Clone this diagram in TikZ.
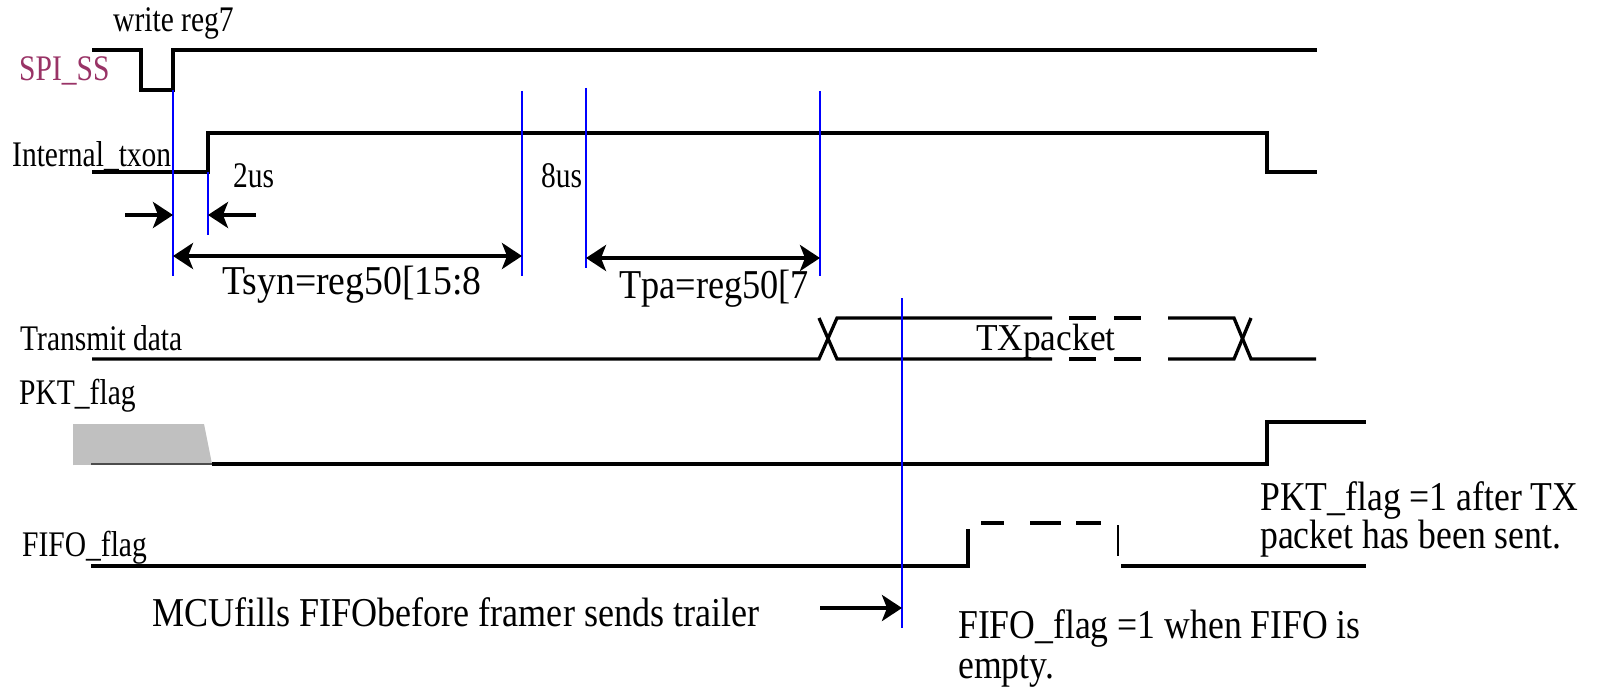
\documentclass[tikz,border=0pt]{standalone}
\usepackage{fontspec}
\setmainfont{Liberation Serif}
\newfontfamily\condserif{Liberation Serif}[FakeStretch=0.82]
\newfontfamily\noteserif{Liberation Serif}[FakeStretch=0.87]
\newfontfamily\tsynserif{Liberation Serif}[FakeStretch=0.92]
\newfontfamily\tpaserif{Liberation Serif}[FakeStretch=0.885]
\newfontfamily\wideserif{Liberation Serif}[FakeStretch=0.93]
\usetikzlibrary{arrows.meta}
\definecolor{ssred}{RGB}{153,51,102}
\definecolor{padgray}{RGB}{192,192,192}

\begin{document}
\begin{tikzpicture}[x=1pt,y=-1pt,
  sig/.style={line width=3.3pt},
  thinsig/.style={line width=1.5pt, black!70},
  marker/.style={blue, line width=2.8pt},
  dimtip/.tip={Stealth[length=20pt,width=26pt,inset=5pt]},
  dim/.style={line width=4pt, -dimtip},
  dimboth/.style={line width=4pt, dimtip-dimtip},
  lbl/.style={inner sep=0pt, anchor=base west, font=\condserif\fontsize{36}{40}\selectfont},
  note/.style={inner sep=0pt, anchor=base west, font=\noteserif\fontsize{41}{44}\selectfont},
  ]
\useasboundingbox (0,0) rectangle (1599,690);

% ---- signal names ----
\node[lbl] (wr) at (113,32) {write reg7};
\node[lbl, text=ssred] (ss) at (19,81) {SPI\_SS};
\node[lbl] (itx) at (12,167) {Internal\_txon};
\node[lbl] (td) at (20,350) {Transmit data};
\node[lbl] (pkt) at (19,404) {PKT\_flag};
\node[lbl] (ff) at (22,556) {FIFO\_flag};

% ---- SPI_SS ----
\draw[sig] (92,50) -- (141,50) -- (141,90) -- (173,90) -- (173,50) -- (1317,50);

% ---- Internal_txon ----
\draw[sig] (92,172) -- (208,172) -- (208,133) -- (1267,133) -- (1267,172) -- (1317,172);

% ---- Transmit data bus ----
\draw[sig] (92,359) -- (819,359) -- (837,318) -- (1052,318);
\draw[sig] (819,318) -- (837,359) -- (1052,359);
\foreach \a/\b in {1069/1096, 1114/1141}{
  \draw[sig] (\a,318) -- (\b,318);
  \draw[sig] (\a,359) -- (\b,359);
}
\draw[sig] (1168,318) -- (1234,318) -- (1251,359) -- (1316,359);
\draw[sig] (1168,359) -- (1234,359) -- (1251,318);
\node[inner sep=0pt, anchor=base west, font=\wideserif\fontsize{38}{40}\selectfont] (txp) at (976,350) {TXpacket};

% ---- PKT_flag ----
\fill[padgray] (73,424) -- (204,424) -- (212,464) -- (73,465) -- cycle;
\draw[thinsig] (91,464) -- (212,464);
\draw[sig] (212,464) -- (1267,464) -- (1267,422) -- (1366,422);

% ---- FIFO_flag ----
\draw[sig] (91,566) -- (968,566) -- (968,529);
\foreach \a/\b in {981/1004, 1030/1061, 1076/1101}{
  \draw[sig] (\a,523) -- (\b,523);
}
\draw[line width=2pt] (1118,525) -- (1118,556);
\draw[sig] (1121,566) -- (1366,566);

% ---- timing markers ----
\coordinate (m1t) at (173,90);   \coordinate (m1b) at (173,276);
\coordinate (m2t) at (208,172);  \coordinate (m2b) at (208,235);
\coordinate (m3t) at (522,91);   \coordinate (m3b) at (522,276);
\coordinate (m4t) at (586,88);   \coordinate (m4b) at (586,268);
\coordinate (m5t) at (820,91);   \coordinate (m5b) at (820,276);
\coordinate (m6t) at (902,298);  \coordinate (m6b) at (902,628);
\foreach \m in {1,...,6}{ \draw[marker] (m\m t) -- (m\m b); }

% ---- delay arrows ----
\coordinate (a1s) at (125,215);
\coordinate (a2s) at (256,215);
\draw[dim] (a1s) -- (a1s -| m1t);
\draw[dim] (a2s) -- (a2s -| m2t);
\node[lbl] (us2) at (233,188) {2us};
\node[lbl] (us8) at (541,188) {8us};

\coordinate (tsynl) at (173,256);
\draw[dimboth] (tsynl) -- (tsynl -| m3t);
\node[inner sep=0pt, anchor=base west, font=\tsynserif\fontsize{41}{44}\selectfont] (tsyn) at (222,294) {Tsyn=reg50[15:8};

\coordinate (tpal) at (586,258);
\draw[dimboth] (tpal) -- (tpal -| m5t);
\node[inner sep=0pt, anchor=base west, font=\tpaserif\fontsize{41}{44}\selectfont] (tpa) at (619,298) {Tpa=reg50[7};

% ---- notes ----
\coordinate (mcua) at (820,608);
\draw[dim] (mcua) -- (mcua -| m6t);
\node[inner sep=0pt, anchor=base west, font=\tsynserif\fontsize{41}{44}\selectfont, xscale=1] (mcu) at (152,626) {\addfontfeature{FakeStretch=0.88}MCUfills FIFObefore framer sends trailer};

\node[note] (pn1) at (1260,510) {PKT\_flag =1 after TX};
\node[note] (pn2) at (1260,548) {packet has been sent.};
\node[note] (fn1) at (958,638) {FIFO\_flag =1 when FIFO is};
\node[note] (fn2) at (958,678) {empty.};
\end{tikzpicture}
\end{document}
